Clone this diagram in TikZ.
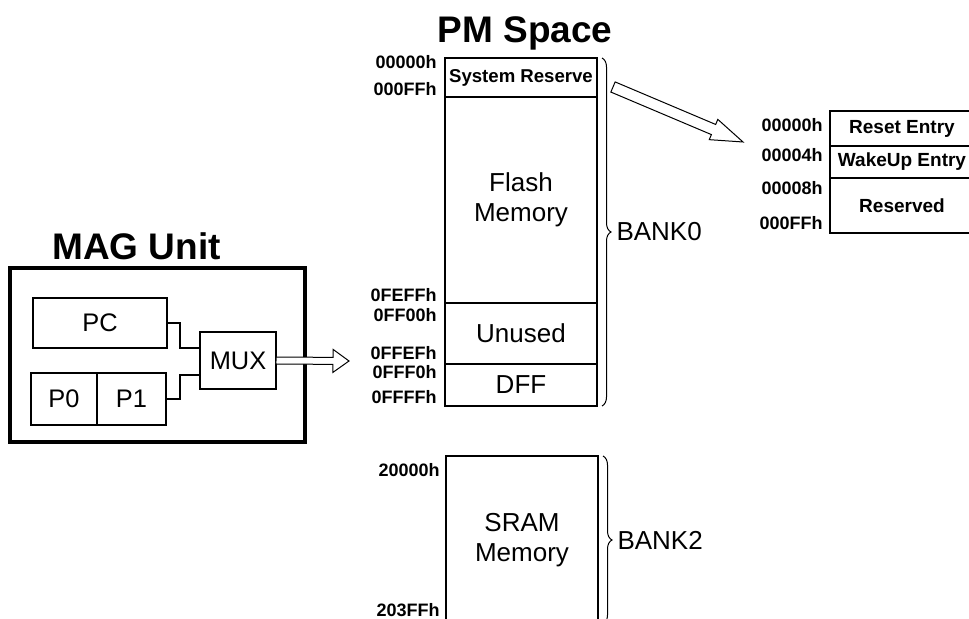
\documentclass[tikz,border=0pt]{standalone}
\usepackage{fontspec}
\setmainfont{Liberation Sans}
\usetikzlibrary{positioning,calc,decorations.pathreplacing}

% hollow block arrow: from, to, half shaft, half head, head length
\newcommand{\hollowarrow}[5]{%
  \coordinate (hbase) at ($(#2)!#5!(#1)$);
  \draw[fill=white, line width=0.5pt, line join=miter]
    ($(#1)!#3!90:(#2)$) -- ($(hbase)!#3!-90:(#1)$)
    -- ($(hbase)!#4!-90:(#1)$) -- (#2)
    -- ($(hbase)!#4!90:(#1)$) -- ($(hbase)!#3!90:(#1)$)
    -- ($(#1)!#3!-90:(#2)$) -- cycle;
}

\begin{document}
\begin{tikzpicture}[x=0.5pt, y=-0.5pt,
    sect/.style={draw, line width=0.6pt, minimum width=76pt, inner sep=0pt,
                 outer sep=0pt, align=center, font=\fontsize{13}{15}\selectfont},
    entry/.style={draw, line width=0.6pt, minimum width=72pt, inner sep=0pt,
                  outer sep=0pt, font=\bfseries\fontsize{9.5}{11}\selectfont},
    unit/.style={draw, line width=0.6pt, inner sep=0pt, outer sep=0pt,
                 font=\fontsize{12.7}{15}\selectfont},
    addr/.style={anchor=east, inner sep=0pt, font=\bfseries\fontsize{9}{10}\selectfont},
    title/.style={inner sep=0pt, font=\bfseries\fontsize{18.5}{22}\selectfont},
    bank/.style={inner sep=0pt, font=\fontsize{13}{15}\selectfont},
    brc/.style={decorate, decoration={brace, amplitude=4.5pt}, line width=0.5pt},
    wire/.style={line width=0.6pt},
  ]
  \useasboundingbox (0,0) rectangle (969,619);

  % --- PM space ---
  \node[title] (pmtitle) at (525,33) {PM Space};
  \node[sect, minimum height=19.5pt, font=\bfseries\fontsize{9.3}{11}\selectfont]
    (sys) at (521,77.5) {System Reserve};
  \node[sect, minimum height=103pt, below=0pt of sys] (flash) {Flash\\Memory};
  \node[sect, minimum height=30.5pt, below=0pt of flash] (unused) {Unused};
  \node[sect, minimum height=21pt, below=0pt of unused] (dff) {DFF};

  \node[addr] (a1) at (437,62) {00000h};
  \node[addr] (a2) at (437,89) {000FFh};
  \node[addr] (a3) at (437,295) {0FEFFh};
  \node[addr] (a4) at (437,315) {0FF00h};
  \node[addr] (a5) at (437,353) {0FFEFh};
  \node[addr] (a6) at (437,372) {0FFF0h};
  \node[addr] (a7) at (437,397) {0FFFFh};

  \draw[brc] ([xshift=2.5pt]sys.north east) -- ([xshift=2.5pt]dff.south east)
    node[bank, midway, right=7pt] (bank0) {BANK0};

  % --- SRAM ---
  \node[sect, minimum height=84pt] (sram) at (522,540) {SRAM\\Memory};
  \node[addr] (b1) at (440,470) {20000h};
  \node[addr] (b2) at (440,610) {203FFh};
  \draw[brc] ([xshift=2.5pt]sram.north east) -- ([xshift=2.5pt]sram.south east)
    node[bank, midway, right=7pt] (bank2) {BANK2};

  % --- reset table ---
  \node[entry, minimum height=17.5pt] (reset) at (902,128.5) {Reset Entry};
  \node[entry, minimum height=16pt, below=0pt of reset] (wake) {WakeUp Entry};
  \node[entry, minimum height=27.5pt, below=0pt of wake] (resv) {Reserved};
  \node[addr] (c1) at (823,125) {00000h};
  \node[addr] (c2) at (823,155) {00004h};
  \node[addr] (c3) at (823,188) {00008h};
  \node[addr] (c4) at (823,223) {000FFh};

  \coordinate (zoomfrom) at (613,87);
  \coordinate (zoomto) at (743,142);
  \hollowarrow{zoomfrom}{zoomto}{2.75pt}{5.5pt}{16pt}

  % --- MAG unit ---
  \node[title] (magtitle) at (136.5,246.5) {MAG Unit};
  \node[draw, line width=2pt, minimum width=147.5pt, minimum height=87pt,
        inner sep=0pt] (mag) at (157.5,355) {};
  \node[unit, minimum width=67pt, minimum height=25pt] (pc) at (100,323) {PC};
  \node[unit, minimum width=33pt, minimum height=26pt] (p0) at (64,399) {P0};
  \node[unit, minimum width=34.5pt, minimum height=26pt, right=0pt of p0] (p1) {P1};
  \node[unit, minimum width=38pt, minimum height=28.5pt] (mux) at (238,360.5) {MUX};

  \draw[wire] (pc.east) -- ++(13,0) |- ([yshift=6.25pt]mux.west);
  \draw[wire] (p1.east) -- ++(14,0) |- ([yshift=-7.25pt]mux.west);

  \coordinate (muxin) at (mux.east);
  \coordinate (muxout) at (349,361);
  \hollowarrow{muxin}{muxout}{1.75pt}{5.75pt}{8pt}
\end{tikzpicture}
\end{document}
